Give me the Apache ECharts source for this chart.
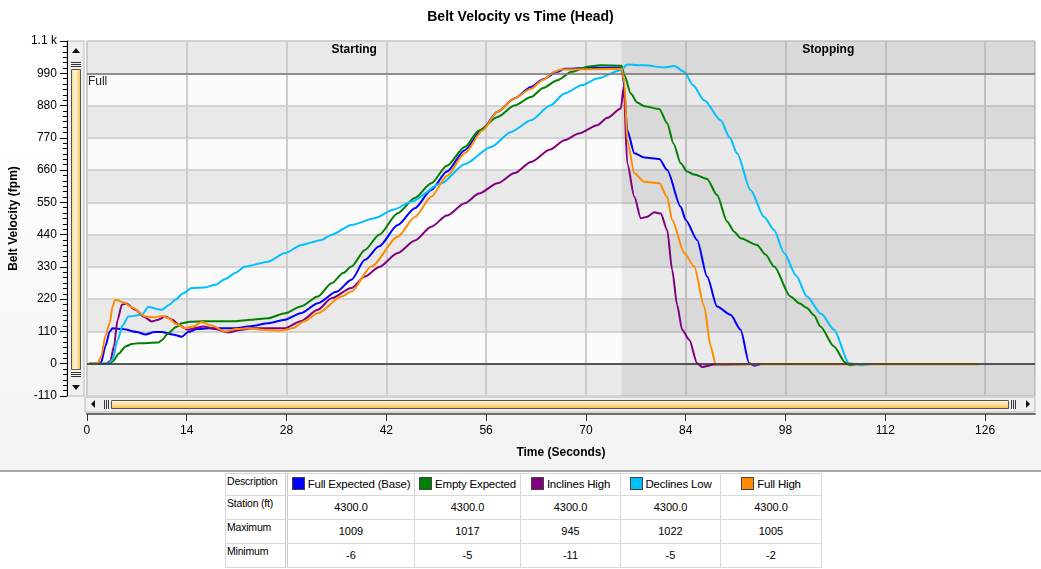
<!DOCTYPE html>
<html>
<head>
<meta charset="utf-8">
<script src="https://cdn.jsdelivr.net/npm/echarts@6/dist/echarts.min.js"></script>
<style>
	html, body { margin: 0; padding: 0; background: #fff; }
	#chart { position: absolute; left: 0; top: 0; width: 1041px; height: 470px;
		background: linear-gradient(#ffffff 0%, #ffffff 25%, #f3f3f3 100%); }
	#rule { position: absolute; left: 0; top: 470px; width: 1041px; height: 2px; background: #a6a6a6; }
	#tbl { position: absolute; left: 225px; top: 473px; width: 597px; border-collapse: collapse; table-layout: fixed;
		font-family: 'Liberation Sans', Arial, sans-serif; font-size: 11px; color: #000;
		border: 1px solid #9aaac2; }
	#tbl td { border: 1px solid #d8d8d8; height: 21px; padding: 0; line-height: 21px; text-align: center;
		white-space: nowrap; overflow: hidden; }
	#tbl td.rh { text-align: left; vertical-align: top; line-height: 15px; font-size: 10.5px; padding-left: 1px;
		border-right: 3px double #c9c9c9; letter-spacing: -0.2px; }
	#tbl tr.head td { font-size: 11.5px; letter-spacing: -0.2px; }
	#tbl tr.head td.rh { font-size: 10.5px; }
	#tbl td.val { line-height: 23px; }
	.sw { display: inline-block; width: 11px; height: 11px; border: 1px solid #444; vertical-align: -2px; margin-right: 3px; }
</style>
</head>
<body>
<div id="chart"></div>
<div id="rule"></div>
<table id="tbl"></table>
<script>
	// series, [time (s), velocity (fpm)]
	var fullExpectedBase = [[0.3,0],[1.5,0],[2.0,5],[2.6,60],[3.2,110],[3.6,121],[5,118],[7,108],[8.2,100],[9.5,108],[10.5,108],[12,100],[13.3,92],[14.2,108],[15.5,118],[17,121],[20.8,121],[23,128],[25.4,138],[27.8,150],[30,172],[32.4,206],[35,245],[37.1,286],[39,354],[41,400],[43.6,473],[46,530],[48.3,592],[50.5,655],[53,728],[55.5,800],[57.6,859],[60,905],[62.3,943],[64,970],[66,995],[67,1005],[70,1008],[75,1009],[75.3,960],[75.8,796],[76.8,717],[78.2,703],[80.3,698],[81.4,660],[83.3,535],[84,490],[85.6,422],[87,297],[88.4,195],[90.3,167],[91.7,116],[92.9,2],[93.6,-6],[94.5,-1]]
	var emptyExpected = [[0.3,0],[3.0,0],[3.6,8],[4.5,35],[5.4,59],[6.3,67],[7.2,70],[10,72],[10.5,80],[11.4,104],[12.5,125],[13.3,138],[14.5,143],[16.3,145],[20.8,145],[23,150],[25.4,155],[27.8,172],[30,195],[32.4,229],[34.3,274],[36,310],[37.1,331],[39,388],[41,440],[43.6,513],[46,565],[48.3,615],[50.5,675],[53,739],[55,795],[57.6,841],[60,880],[62.3,909],[64,940],[66,966],[68,995],[70.2,1012],[72,1017],[75,1016],[75.4,983],[76.3,921],[77.2,890],[78.2,878],[80.3,868],[81.4,820],[82.3,750],[83.3,683],[84.2,655],[85.2,645],[87,630],[88.4,575],[89.8,485],[90.8,450],[91.7,428],[94,405],[95.2,372],[96.4,331],[98.7,229],[100,205],[101,190],[102,165],[102.9,127],[104.8,59],[106.4,4],[107,-5],[108,0]]
	var inclinesHigh = [[0.3,0],[2.8,0],[3.3,10],[3.8,60],[4.3,150],[4.9,201],[5.5,205],[6.8,184],[8,160],[9.1,144],[10,150],[11,161],[12,150],[13,130],[14.2,116],[16.3,127],[18,118],[19.8,107],[21.5,115],[23.1,121],[27.8,121],[30,145],[32.4,184],[34.3,223],[37.1,258],[39,297],[41,330],[43.6,377],[46,420],[48.3,467],[50.5,505],[53,547],[55,580],[57.6,615],[60,650],[62.3,688],[65,730],[67,762],[69,785],[71.6,813],[73,838],[74.9,870],[75.3,945],[75.8,683],[76.8,569],[77.7,496],[78.5,500],[79.6,516],[80.5,512],[81.4,456],[82.1,320],[82.8,200],[83.5,116],[84.5,82],[85.6,2],[86.3,-11],[88,-3],[93,-1]]
	var declinesLow = [[0.3,0],[3.0,0],[3.6,15],[4.3,80],[5.0,130],[5.8,161],[7.7,167],[8.6,193],[10.5,184],[11.5,200],[12.4,218],[13.5,240],[14.7,258],[16.5,260],[18,269],[19.5,290],[20.8,309],[22.2,331],[25.4,348],[27.8,377],[30.1,405],[32.9,422],[34.3,439],[37.1,473],[40.4,496],[43,525],[45.5,552],[49.7,615],[53,680],[56.7,739],[59.5,790],[62.3,830],[65,880],[67,921],[69.5,950],[71.6,972],[74.9,1000],[75.8,1020],[78.2,1017],[81,1010],[82.4,1015],[83.8,995],[85,950],[86.6,898],[88.9,830],[90.2,770],[91.2,717],[93.1,592],[95,500],[96.4,456],[97.8,377],[99.5,300],[101,229],[103,170],[104.8,116],[106.9,2],[108.7,-5],[110,0]]
	var fullHigh = [[0.3,0],[1.5,0],[2.0,25],[2.6,95],[3.2,140],[3.6,195],[3.96,218],[5,210],[6.5,190],[8.2,161],[9.5,158],[10.5,163],[11.5,155],[12.5,135],[13.8,121],[15,128],[16.1,142],[17.5,130],[19.4,110],[21,118],[22.6,121],[25,115],[27.3,113],[29,122],[30.5,145],[32.4,172],[35.7,229],[37.1,246],[39.9,331],[43.6,433],[46,500],[48.3,569],[50.5,640],[53,717],[55.5,795],[57.6,859],[60,905],[62.3,937],[64,968],[65.6,995],[66.5,1003],[75,1005],[75.4,960],[75.8,762],[76.8,649],[78.2,620],[80.3,615],[81.4,569],[82.1,490],[83.8,377],[85.2,331],[86.6,195],[87.5,59],[88.2,0],[90,-2],[125.1,-2]]

	var seriesNames = ['Full Expected (Base)', 'Empty Expected', 'Inclines High', 'Declines Low', 'Full High']
	var seriesColors = ['#0000ff', '#008000', '#800080', '#00bfff', '#ff8c00']
	var seriesData = [fullExpectedBase, emptyExpected, inclinesHigh, declinesLow, fullHigh]

	// table
	var rowLabels = ['Description', 'Station (ft)', 'Maximum', 'Minimum']
	var stations = ['4300.0', '4300.0', '4300.0', '4300.0', '4300.0']
	var maximums = [1009, 1017, 945, 1022, 1005]
	var minimums = [-6, -5, -11, -5, -2]

	// phases
	var phaseNames = ['Starting', 'Stopping']
	var phaseBounds = [0, 75, 133]
	var fullLevel = 990

	var colWidths = [61, 128, 106, 100, 100, 101]
	var tbl = document.getElementById('tbl')
	var cg = document.createElement('colgroup')
	colWidths.forEach(function (w) {
		var col = document.createElement('col')
		col.style.width = w + 'px'
		cg.appendChild(col)
	})
	tbl.appendChild(cg)
	var rows = [null, stations, maximums, minimums]
	for (var r = 0; r < rowLabels.length; r++) {
		var tr = document.createElement('tr')
		if (r === 0) tr.className = 'head'
		var th = document.createElement('td')
		th.className = 'rh'
		th.textContent = rowLabels[r]
		tr.appendChild(th)
		for (var c = 0; c < seriesNames.length; c++) {
			var td = document.createElement('td')
			if (r === 0) {
				td.innerHTML = '<span class="sw" style="background:' + seriesColors[c] + '"></span>' + seriesNames[c]
			} else {
				td.className = 'val'
				td.textContent = rows[r][c]
			}
			tr.appendChild(td)
		}
		tbl.appendChild(tr)
	}

	var myChart = echarts.init(document.getElementById('chart'))

	var vBar = new echarts.graphic.LinearGradient(0, 0, 1, 0, [
		{offset: 0, color: '#ffd98a'}, {offset: 0.45, color: '#fff5dc'}, {offset: 1, color: '#ffbb40'}])
	var hBar = new echarts.graphic.LinearGradient(0, 0, 0, 1, [
		{offset: 0, color: '#fff5dc'}, {offset: 0.5, color: '#ffe2a0'}, {offset: 1, color: '#ffb933'}])

	function grip(x1, y1, x2, y2) {
		return {type: 'line', silent: true, shape: {x1: x1, y1: y1, x2: x2, y2: y2}, style: {stroke: '#333', lineWidth: 1}}
	}

	var lineSeries = seriesData.map(function (d, i) {
		return {
			name: seriesNames[i],
			type: 'line',
			data: d,
			symbol: 'none',
			smooth: 0.25,
			smoothMonotone: 'x',
			z: 3,
			lineStyle: {width: 2, color: seriesColors[i]},
			itemStyle: {color: seriesColors[i]}
		}
	})

	var option = {
		animation: false,
		textStyle: {fontFamily: 'Liberation Sans, Arial, sans-serif'},
		title: {
			text: 'Belt Velocity vs Time (Head)',
			left: 'center',
			top: 5,
			textStyle: {fontSize: 14, fontWeight: 'bold', color: '#000'}
		},
		grid: {left: 85, right: 6, top: 41, bottom: 74, show: true, borderColor: '#c4c4c4', borderWidth: 1},
		xAxis: {
			type: 'value',
			min: 0,
			max: phaseBounds[2],
			interval: 14,
			offset: 18,
			z: 1,
			name: 'Time (Seconds)',
			nameLocation: 'middle',
			nameGap: 33,
			nameTextStyle: {fontWeight: 'bold', fontSize: 12, color: '#000'},
			axisLine: {onZero: false, lineStyle: {color: '#6e6e6e', width: 2}},
			axisTick: {length: 7, lineStyle: {color: '#333'}},
			axisLabel: {color: '#000', fontSize: 12, margin: 11, showMaxLabel: false},
			splitLine: {lineStyle: {color: '#cdcdcd', width: 2}}
		},
		yAxis: {
			type: 'value',
			min: -110,
			max: 1100,
			interval: 110,
			offset: 20,
			name: 'Belt Velocity (fpm)',
			nameLocation: 'middle',
			nameGap: 30,
			nameTextStyle: {fontWeight: 'bold', fontSize: 12, color: '#000'},
			axisLine: {show: true, onZero: false, lineStyle: {color: '#000'}},
			axisTick: {show: true, length: 7, lineStyle: {color: '#000'}},
			minorTick: {show: true, splitNumber: 6, length: 4, lineStyle: {color: '#000'}},
			axisLabel: {
				color: '#000', fontSize: 12, margin: 10,
				formatter: function (v) { return v === 1100 ? '1.1 k' : v }
			},
			splitLine: {lineStyle: {color: '#d3d3d3', width: 2}},
			splitArea: {show: true, areaStyle: {color: ['#e9e9e9', '#fbfbfb']}}
		},
		graphic: [
			// vertical scrollbar
			{type: 'rect', silent: true, shape: {x: 67, y: 41, width: 17, height: 355}, style: {fill: '#f0f0f0', stroke: '#b8b8b8'}},
			{type: 'polygon', silent: true, shape: {points: [[72, 53], [80, 53], [76, 48]]}, style: {fill: '#111'}},
			grip(71, 62.5, 81, 62.5), grip(71, 64.5, 81, 64.5), grip(71, 66.5, 81, 66.5),
			{type: 'rect', silent: true, shape: {x: 71.5, y: 69.5, width: 9, height: 300}, style: {fill: vBar, stroke: '#555'}},
			grip(71, 372.5, 81, 372.5), grip(71, 374.5, 81, 374.5), grip(71, 376.5, 81, 376.5),
			{type: 'polygon', silent: true, shape: {points: [[72, 385], [80, 385], [76, 390]]}, style: {fill: '#111'}},
			// horizontal scrollbar
			{type: 'rect', silent: true, shape: {x: 85, y: 397, width: 950, height: 15}, style: {fill: '#f0f0f0', stroke: '#b8b8b8'}},
			{type: 'polygon', silent: true, shape: {points: [[95, 400], [95, 408], [91, 404]]}, style: {fill: '#111'}},
			grip(104.5, 400, 104.5, 409), grip(106.5, 400, 106.5, 409), grip(108.5, 400, 108.5, 409),
			{type: 'rect', silent: true, shape: {x: 111.5, y: 400.5, width: 897, height: 8}, style: {fill: hBar, stroke: '#555'}},
			grip(1011.5, 400, 1011.5, 409), grip(1013.5, 400, 1013.5, 409), grip(1015.5, 400, 1015.5, 409),
			{type: 'polygon', silent: true, shape: {points: [[1026, 400], [1026, 408], [1030, 404]]}, style: {fill: '#111'}}
		],
		series: [{
			type: 'line',
			data: [],
			z: 1,
			silent: true,
			markArea: {
				silent: true,
				itemStyle: {color: 'rgba(0,0,0,0.065)'},
				label: {position: 'insideTop', distance: 3, fontWeight: 'bold', fontSize: 12, color: '#000'},
				data: [
					[{name: phaseNames[0], xAxis: phaseBounds[0], itemStyle: {color: 'rgba(0,0,0,0)'}}, {xAxis: phaseBounds[1]}],
					[{name: phaseNames[1], xAxis: phaseBounds[1]}, {xAxis: phaseBounds[2]}]
				]
			},
			markLine: {
				silent: true,
				symbol: 'none',
				data: [
					{yAxis: fullLevel, lineStyle: {color: '#7a7a7a', width: 1.5, type: 'solid'},
						label: {show: true, formatter: 'Full', position: 'insideStartBottom', distance: [1, 2], color: '#222', fontSize: 12}},
					{yAxis: 0, lineStyle: {color: '#2e2e2e', width: 1.5, type: 'solid'}, label: {show: false}}
				]
			}
		}].concat(lineSeries)
	}

	myChart.setOption(option)
</script>
</body>
</html>
